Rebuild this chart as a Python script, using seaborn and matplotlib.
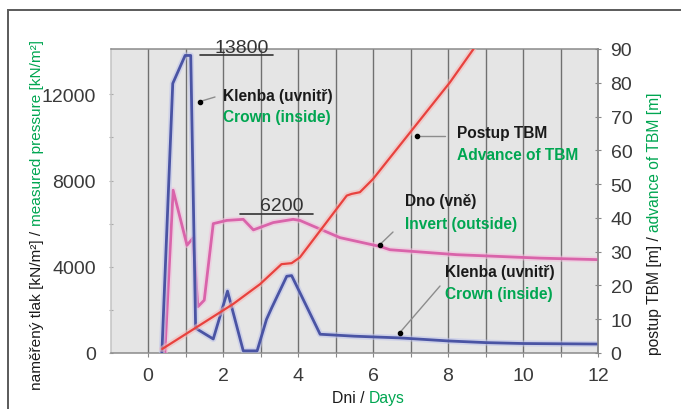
import matplotlib
matplotlib.use("Agg")
import matplotlib.pyplot as plt
import matplotlib.patheffects as pe
from matplotlib.patches import Rectangle
from matplotlib.transforms import IdentityTransform
import pandas as pd
import seaborn as sns

# Crown (inside) pressure, kN/m2
crown_days = [0.37, 0.66, 0.99, 1.14, 1.27, 1.74, 2.12, 2.54, 2.91, 3.16, 3.30, 3.70,
              3.83, 4.59, 5.50, 6.72, 8.00, 9.03, 10.0, 12.0]
crown_kn = [0, 12500, 13800, 13800, 1150, 650, 2870, 100, 100, 1560, 2100, 3560,
            3590, 870, 780, 700, 560, 480, 440, 415]

# Invert (outside) pressure, kN/m2
invert_days = [0.45, 0.67, 1.04, 1.20, 1.33, 1.50, 1.74, 2.10, 2.54, 2.81, 3.34, 3.87,
               4.05, 5.12, 6.19, 6.45, 8.23, 10.45, 12.0]
invert_kn = [0, 7550, 5000, 5330, 2150, 2450, 6000, 6150, 6200, 5710, 6050, 6200,
             6150, 5350, 4940, 4790, 4560, 4400, 4330]

# TBM advance, m
tbm_days = [0.38, 1.39, 2.27, 2.99, 3.56, 3.83, 4.05, 5.30, 5.43, 5.65, 6.00, 8.05, 8.68]
tbm_m = [1.2, 8.3, 14.5, 20.4, 26.3, 26.6, 28.3, 46.6, 47.1, 47.6, 51.5, 80.1, 90.0]

x_ticks = [0, 2, 4, 6, 8, 10, 12]
p_ticks = [0, 4000, 8000, 12000]
m_ticks = [0, 10, 20, 30, 40, 50, 60, 70, 80, 90]
crown_peak = 13800
invert_peak = 6200

BLUE = "#4a54a4"
PINK = "#d964aa"
RED = "#e8423e"
GREEN = "#00a651"
TICK_COL = "#3a3a3a"

sns.set_theme(style="white")
plt.rcParams["font.family"] = ["Liberation Sans", "DejaVu Sans"]

W, H = 681, 410
L, R, T, B = 110.5, 598.0, 50.0, 354.0   # plot box in pixels from top-left
fig = plt.figure(figsize=(W / 100, H / 100), dpi=100)
fig.patch.set_facecolor("white")
renderer = fig.canvas.get_renderer()

# outer frame of the figure panel
fig.patches.append(Rectangle((8 / W, -0.1), 1.2, 1 - 11 / H + 0.1, transform=fig.transFigure,
                             fill=False, edgecolor="#5a5a5a", lw=1.4, clip_on=False))

ax = fig.add_axes([L / W, 1 - B / H, (R - L) / W, (B - T) / H])
ax.set_facecolor("#e5e5e5")
ax2 = ax.twinx()

crown = pd.DataFrame({"day": crown_days, "p": crown_kn})
invert = pd.DataFrame({"day": invert_days, "p": invert_kn})
tbm = pd.DataFrame({"day": tbm_days, "m": tbm_m})


def halo(col):
    return [pe.Stroke(linewidth=4.4, foreground=col, alpha=0.55), pe.Normal()]


sns.lineplot(data=invert, x="day", y="p", ax=ax, color=PINK, lw=2.0, sort=False,
             path_effects=halo("#f3bfdd"), zorder=3)
sns.lineplot(data=crown, x="day", y="p", ax=ax, color=BLUE, lw=2.0, sort=False,
             path_effects=halo("#bcc1ea"), zorder=4)
sns.lineplot(data=tbm, x="day", y="m", ax=ax2, color=RED, lw=1.6, sort=False,
             path_effects=halo("#f6b9b6"), zorder=3)

ax.set_xlim(-1, 12)
ax.set_ylim(0, 14100)
ax2.set_ylim(0, 90)

# vertical grid on every day
ax.set_xticks(x_ticks)
ax.set_xticklabels([str(v) for v in x_ticks])
ax.set_xticks(range(0, 13), minor=True)
ax.grid(axis="x", which="both", color="#707070", lw=1.0)
ax.grid(axis="y", visible=False)
ax.set_axisbelow(True)

ax.set_yticks(p_ticks)
ax.set_yticklabels([str(v) for v in p_ticks])
ax.set_yticks(range(2000, 14000, 4000), minor=True)
ax2.set_yticks(m_ticks)
ax2.set_yticklabels([str(v) for v in m_ticks])

ax.tick_params(axis="x", which="both", length=3, width=0.8, color="#888888",
               labelsize=14, labelcolor=TICK_COL, pad=7, bottom=True)
ax.tick_params(axis="y", which="both", length=3, width=0.8, color="#aaaaaa",
               labelsize=14, labelcolor=TICK_COL, pad=9, left=True, direction="inout")
ax2.tick_params(axis="y", length=4, width=0.8, color="#888888", direction="inout",
                labelsize=14, labelcolor=TICK_COL, pad=7, right=True)

ax.set_xlabel("")
ax.set_ylabel("")
ax2.set_ylabel("")

for name, sp in ax.spines.items():
    sp.set_linewidth(1.1)
    sp.set_color("#8a8a8a")
ax.spines["left"].set_color("#c4c4c4")
for name, sp in ax2.spines.items():
    sp.set_visible(name == "right")
ax2.spines["right"].set_color("#8a8a8a")
ax2.spines["right"].set_linewidth(1.1)


def fx(px):
    return (px - L) / (R - L)


def fy(py):
    return (B - py) / (B - T)


def measure(s, **kw):
    t = fig.text(0, 0, s, transform=IdentityTransform(), **kw)
    w = t.get_window_extent(renderer).width
    t.remove()
    return w


def fit_size(s, target, **kw):
    return 10 * target / measure(s, fontsize=10, **kw)


# peak values written above an underline at the peak level
ax.plot([1.39, 3.33], [crown_peak, crown_peak], color="#333333", lw=1.2, zorder=5)
ax.annotate(f"{crown_peak}", (2.50, crown_peak), xytext=(0, 2.5), textcoords="offset points",
            ha="center", va="baseline", fontsize=14, color="#333333", zorder=6)
ax.plot([2.45, 4.40], [invert_peak + 250, invert_peak + 250], color="#333333", lw=1.2, zorder=5)
ax.annotate(f"{invert_peak}", (3.57, invert_peak + 250), xytext=(0, 2.5),
            textcoords="offset points", ha="center", va="baseline", fontsize=14,
            color="#333333", zorder=6)

# series captions with leader lines
cap_size = fit_size("Klenba (uvnitř)", 110, fontweight="bold")
LBL = dict(fontsize=cap_size, fontweight="bold", ha="left", va="baseline", zorder=7,
           transform=ax.transAxes)


def caption(px, by1, by2, black, green, dot, end):
    ax.text(fx(px), fy(by1), black, color="#1a1a1a", **LBL)
    ax.text(fx(px), fy(by2), green, color=GREEN, **LBL)
    ax.plot([fx(dot[0]), fx(end[0])], [fy(dot[1]), fy(end[1])], color="#8c8c8c", lw=1.0,
            zorder=6, transform=ax.transAxes)
    ax.plot([fx(dot[0])], [fy(dot[1])], "o", color="black", ms=3, zorder=7,
            transform=ax.transAxes)


caption(223, 101, 122, "Klenba (uvnitř)", "Crown (inside)", (200, 102.5), (215, 98))
caption(457, 138, 160, "Postup TBM", "Advance of TBM", (416.5, 136.5), (445, 136.5))
caption(405, 206, 229, "Dno (vně)", "Invert (outside)", (380, 245.5), (393, 233))
caption(445, 277, 299, "Klenba (uvnitř)", "Crown (inside)", (399.5, 334), (440, 287))


# two-colour axis titles, sized to their span
def two_tone(parts, cx, cy, length, rotation=0):
    text = " ".join(s for s, _ in parts)
    size = fit_size(text, length)
    gap = measure("n n", fontsize=size) - measure("nn", fontsize=size)
    widths = [measure(s, fontsize=size) for s, _ in parts]
    total = sum(widths) + gap * (len(parts) - 1)
    pos = (cx - total / 2) if rotation == 0 else (cy - total / 2)
    for (s, col), w in zip(parts, widths):
        x, y = (pos, cy) if rotation == 0 else (cx, pos)
        fig.text(x, y, s, color=col, rotation=rotation, rotation_mode="anchor",
                 ha="left", va="baseline", transform=IdentityTransform(), fontsize=size)
        pos += w + gap


two_tone([("naměřený tlak [kN/m²] /", "#1a1a1a"), ("measured pressure [kN/m²]", GREEN)],
         41, H - 215, 350, rotation=90)
two_tone([("postup TBM [m] /", "#1a1a1a"), ("advance of TBM [m]", GREEN)],
         659, H - 223.5, 263, rotation=90)
two_tone([("Dni /", "#1a1a1a"), ("Days", GREEN)], 368.5, H - 403, 73)

fig.savefig("out.png", dpi=100)
